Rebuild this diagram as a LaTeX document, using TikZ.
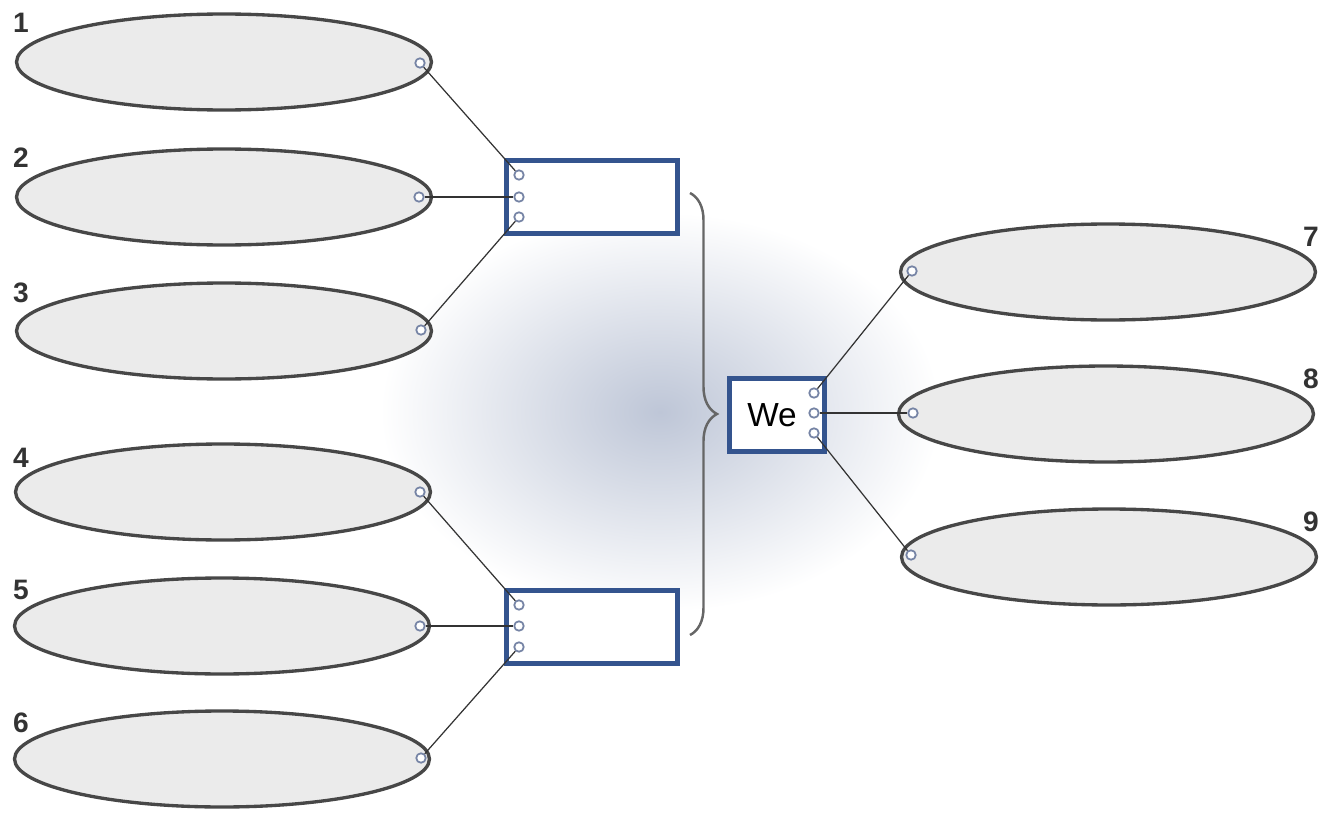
\documentclass[tikz,border=0pt]{standalone}
\usepackage{fontspec}
\setmainfont{Liberation Sans}
\usetikzlibrary{shapes.geometric,decorations.pathreplacing}
\definecolor{boxblue}{RGB}{52,84,142}
\definecolor{dotblue}{RGB}{118,132,165}
\definecolor{glow}{RGB}{190,198,215}
\begin{document}
\begin{tikzpicture}[x=0.02cm,y=-0.02cm,
    oval/.style={draw=black!72,line width=1.9pt,fill=black!8,ellipse,
        minimum width=8.3cm,minimum height=1.92cm,inner sep=0pt},
    slot/.style={draw=boxblue,line width=3.1pt,fill=white,
        minimum width=3.42cm,minimum height=1.46cm,inner sep=0pt},
    dot/.style={draw=dotblue,line width=1pt,fill=white,circle,
        minimum size=0.19cm,inner sep=0pt},
    wire/.style={black!80,line width=0.7pt},
    num/.style={font=\fontsize{16}{16}\selectfont\bfseries,text=black!80}]
    \useasboundingbox (0,0) rectangle (1333,818);
    %% background glow
    \shade[inner color=glow,outer color=white] (660,412) ellipse [x radius=5.6cm,y radius=4cm];
    %% left ovals
    \node[oval] (o1) at (224,62) {};
    \node[oval] (o2) at (224,197) {};
    \node[oval] (o3) at (224,331) {};
    \node[oval] (o4) at (223,492) {};
    \node[oval] (o5) at (222,626) {};
    \node[oval] (o6) at (222,759) {};
    %% right ovals
    \node[oval] (o7) at (1108,272) {};
    \node[oval] (o8) at (1106,414) {};
    \node[oval] (o9) at (1109,557) {};
    %% numbers
    \node[num] (n1) at (21,23) {1};
    \node[num] (n2) at (21,158) {2};
    \node[num] (n3) at (21,293) {3};
    \node[num] (n4) at (21,458) {4};
    \node[num] (n5) at (21,590) {5};
    \node[num] (n6) at (21,723) {6};
    \node[num] (n7) at (1311,237) {7};
    \node[num] (n8) at (1311,379) {8};
    \node[num] (n9) at (1311,522) {9};
    %% boxes
    \node[slot] (top) at (592,197) {};
    \node[slot] (bot) at (592,627) {};
    \node[slot,minimum width=1.9cm,font=\fontsize{19}{19}\selectfont] (we) at (777,415) {\hspace*{-0.2cm}We};
    %% brace
    \draw[black!60,line width=1.4pt,decorate,decoration={brace,amplitude=0.54cm}]
        (690,193) -- (690,635);
    %% dots on ovals
    \node[dot] (d1) at (420,63) {};
    \node[dot] (d2) at (419,197) {};
    \node[dot] (d3) at (421,330) {};
    \node[dot] (d4) at (420,492) {};
    \node[dot] (d5) at (420,626) {};
    \node[dot] (d6) at (421,758) {};
    \node[dot] (d7) at (912,271) {};
    \node[dot] (d8) at (913,413) {};
    \node[dot] (d9) at (911,555) {};
    %% dots on boxes
    \node[dot] (ta) at (519,175) {};
    \node[dot] (tb) at (519,197) {};
    \node[dot] (tc) at (519,217) {};
    \node[dot] (ba) at (519,605) {};
    \node[dot] (bb) at (519,626) {};
    \node[dot] (bc) at (519,647) {};
    \node[dot] (wa) at (814,393) {};
    \node[dot] (wb) at (814,413) {};
    \node[dot] (wc) at (814,433) {};
    %% wires
    \draw[wire] (d1) -- (ta);
    \draw[wire] (d2) -- (tb);
    \draw[wire] (d3) -- (tc);
    \draw[wire] (d4) -- (ba);
    \draw[wire] (d5) -- (bb);
    \draw[wire] (d6) -- (bc);
    \draw[wire] (wa) -- (d7);
    \draw[wire] (wb) -- (d8);
    \draw[wire] (wc) -- (d9);
\end{tikzpicture}
\end{document}
